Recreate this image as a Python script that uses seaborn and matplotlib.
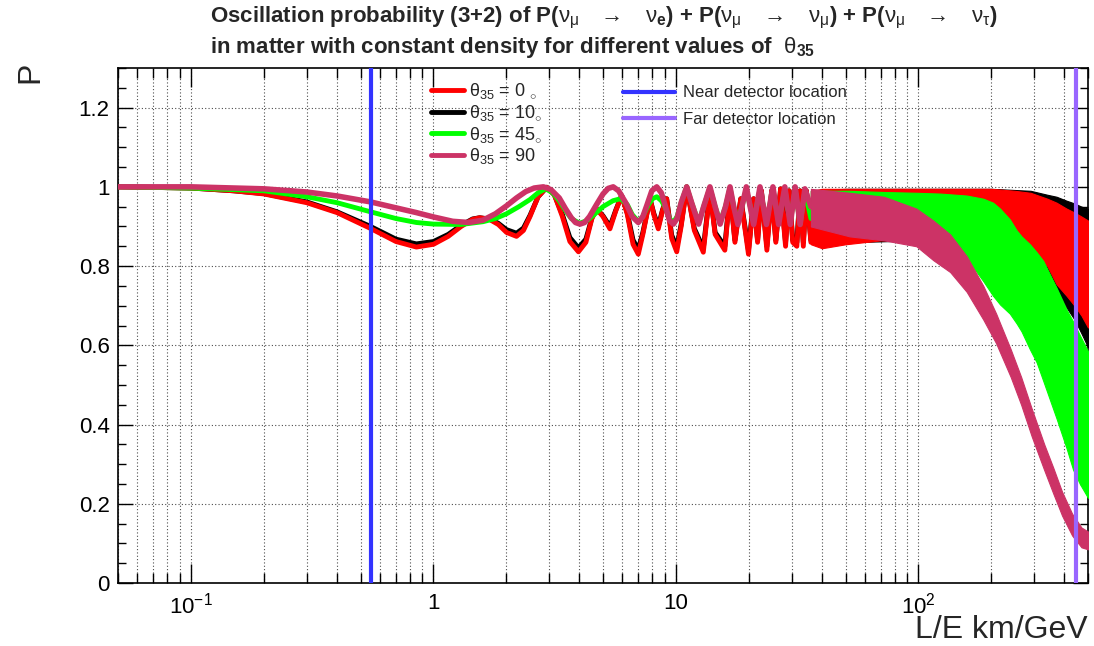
import numpy as np
import pandas as pd
import seaborn as sns
import matplotlib.pyplot as plt
from matplotlib.lines import Line2D
from matplotlib.ticker import FixedLocator, FixedFormatter, MultipleLocator, FuncFormatter

sns.set_style("ticks")
plt.rcParams['font.family'] = ['Liberation Sans', 'DejaVu Sans']
plt.rcParams['mathtext.fontset'] = 'custom'
plt.rcParams['mathtext.rm'] = 'Liberation Sans'
plt.rcParams['mathtext.it'] = 'Liberation Sans'
plt.rcParams['mathtext.bf'] = 'Liberation Sans:bold'

# ---- resolved oscillations (L/E in km/GeV, P) ----
red_le = [0.05, 0.1, 0.15, 0.2, 0.3, 0.4, 0.55, 0.7, 0.85, 1.0, 1.15, 1.3, 1.45, 1.55,
          1.7, 1.85, 2.0, 2.2, 2.35, 2.5, 2.7, 2.93, 3.15, 3.4, 3.65, 3.96, 4.25, 4.5,
          4.71, 5.0, 5.34, 5.65, 5.97, 6.3, 6.65, 6.99, 7.3, 7.81, 8.1, 8.45, 8.8, 9.15,
          9.6, 10.07, 10.5, 11.07, 11.9, 12.96, 13.8, 14.5, 15.9, 16.7, 17.5, 18.5, 19.9,
          20.9, 21.7, 22.5, 23.7, 24.8, 25.8, 27.0, 28.3, 29.3, 30.3, 31.5, 32.5, 33.5,
          34.5, 36.0]
red_p = [1.0, 0.997, 0.99, 0.982, 0.96, 0.935, 0.895, 0.862, 0.848, 0.855, 0.875, 0.9,
         0.918, 0.922, 0.918, 0.905, 0.885, 0.875, 0.89, 0.925, 0.975, 0.999, 0.98, 0.925,
         0.862, 0.836, 0.86, 0.92, 0.944, 0.925, 0.894, 0.94, 0.978, 0.93, 0.855, 0.83,
         0.88, 0.97, 0.93, 0.894, 0.94, 0.97, 0.87, 0.836, 0.9, 1.0, 0.89, 0.835, 0.99,
         0.88, 0.84, 0.99, 0.86, 0.97, 0.83, 0.97, 0.86, 0.99, 0.84, 0.99, 0.86, 0.995,
         0.85, 0.99, 0.86, 0.85, 0.99, 0.85, 0.99, 0.86]
black_p = [1.0, 0.997, 0.99, 0.983, 0.962, 0.937, 0.9, 0.868, 0.856, 0.862, 0.88, 0.903,
           0.919, 0.922, 0.919, 0.908, 0.892, 0.883, 0.896, 0.928, 0.975, 0.999, 0.98,
           0.93, 0.872, 0.846, 0.868, 0.922, 0.944, 0.927, 0.9, 0.942, 0.978, 0.934,
           0.866, 0.842, 0.885, 0.97, 0.933, 0.9, 0.942, 0.97, 0.878, 0.848, 0.905, 1.0,
           0.895, 0.845, 0.99, 0.885, 0.85, 0.99, 0.865, 0.97, 0.84, 0.97, 0.865, 0.99,
           0.85, 0.99, 0.865, 0.995, 0.86, 0.99, 0.865, 0.86, 0.99, 0.86, 0.99, 0.865]

green_le = [0.05, 0.1, 0.2, 0.3, 0.4, 0.55, 0.7, 0.85, 1.0, 1.3, 1.6, 1.8, 2.0, 2.25, 2.5,
            2.7, 2.9, 3.1, 3.3, 3.5, 3.7, 4.0, 4.3, 4.6, 5.0, 5.5, 5.9, 6.3, 6.6, 7.0, 7.3,
            7.7, 8.0, 8.33, 8.7, 9.0, 9.4, 9.75, 10.1, 10.5, 11.07, 11.6, 12.4, 13.0, 13.8,
            14.5, 15.2, 16.0, 16.7, 17.3, 18.0, 18.7, 19.5, 20.9, 22.2, 23.6, 25.1, 26.5,
            28.1, 29.6, 31.0, 32.5, 34.0, 36.0]
green_p = [1.0, 0.997, 0.99, 0.975, 0.96, 0.937, 0.92, 0.91, 0.906, 0.905, 0.912, 0.92,
           0.932, 0.95, 0.968, 0.985, 0.995, 0.985, 0.965, 0.94, 0.92, 0.908, 0.915, 0.93,
           0.95, 0.965, 0.97, 0.955, 0.93, 0.912, 0.925, 0.955, 0.97, 0.975, 0.965, 0.95,
           0.92, 0.91, 0.925, 0.96, 1.0, 0.96, 0.91, 0.95, 0.998, 0.95, 0.912, 0.95,
           0.998, 0.95, 0.912, 0.95, 0.995, 0.912, 0.995, 0.912, 0.995, 0.91, 0.995,
           0.91, 0.995, 0.905, 0.99, 0.92]

crim_le = [0.05, 0.1, 0.2, 0.3, 0.4, 0.55, 0.7, 0.85, 1.0, 1.2, 1.4, 1.6, 1.8, 2.0, 2.2,
           2.4, 2.6, 2.84, 3.05, 3.3, 3.5, 3.7, 3.85, 4.02, 4.2, 4.4, 4.7, 5.0, 5.25, 5.51,
           5.8, 6.2, 6.6, 6.99, 7.3, 7.6, 7.95, 8.33, 8.7, 9.0, 9.4, 9.75, 10.1, 10.5,
           11.07, 11.6, 12.4, 13.0, 13.8, 14.5, 15.2, 16.0, 16.7, 17.3, 18.0, 18.7, 19.5,
           20.9, 22.2, 23.6, 25.1, 26.5, 28.1, 29.6, 31.0, 32.5, 34.0, 36.0]
crim_p = [1.0, 1.0, 0.995, 0.987, 0.977, 0.962, 0.947, 0.935, 0.924, 0.913, 0.91, 0.916,
          0.932, 0.952, 0.972, 0.988, 0.997, 1.0, 0.993, 0.972, 0.945, 0.922, 0.91, 0.906,
          0.91, 0.925, 0.955, 0.982, 0.996, 1.0, 0.99, 0.96, 0.925, 0.91, 0.925, 0.955,
          0.99, 1.0, 0.985, 0.955, 0.915, 0.906, 0.92, 0.96, 1.0, 0.96, 0.906, 0.95, 1.0,
          0.95, 0.906, 0.95, 1.0, 0.95, 0.905, 0.95, 1.0, 0.905, 1.0, 0.905, 1.0, 0.905,
          1.0, 0.905, 1.0, 0.905, 0.995, 0.95]

# ---- unresolved fast oscillations: envelopes of the filled region ----
black_band_le = [36, 50, 100, 200, 290, 340, 371, 408, 440, 470, 500]
black_band_lo = [0.86, 0.86, 0.865, 0.86, 0.84, 0.79, 0.745, 0.695, 0.665, 0.63, 0.595]
black_band_hi = [0.99, 0.995, 0.995, 0.995, 0.99, 0.98, 0.975, 0.965, 0.958, 0.95, 0.945]

red_band_le = [36, 40, 50, 70, 100, 150, 200, 250, 290, 340, 371, 408, 440, 470, 500]
red_band_lo = [0.855, 0.845, 0.855, 0.865, 0.865, 0.86, 0.86, 0.86, 0.84, 0.80, 0.754,
               0.725, 0.70, 0.675, 0.645]
red_band_hi = [0.99, 0.995, 0.995, 0.995, 0.995, 0.995, 0.995, 0.99, 0.985, 0.97, 0.96,
               0.945, 0.935, 0.925, 0.915]

green_band_le = [36, 52, 72, 98, 123, 158, 185, 203, 217, 238, 254, 266, 288, 307, 327,
                 371, 408, 434, 463, 500]
green_band_lo = [0.92, 0.885, 0.88, 0.885, 0.88, 0.82, 0.762, 0.725, 0.703, 0.68, 0.655,
                 0.635, 0.59, 0.557, 0.51, 0.415, 0.34, 0.286, 0.25, 0.215]
green_band_hi = [0.99, 0.99, 0.987, 0.985, 0.983, 0.978, 0.97, 0.96, 0.945, 0.918, 0.89,
                 0.875, 0.855, 0.835, 0.813, 0.745, 0.69, 0.66, 0.625, 0.585]

crim_band_le = [36, 52, 72, 98, 115, 135, 158, 185, 209, 240, 265, 293, 330, 360, 391,
                430, 470, 500]
crim_band_lo = [0.9, 0.875, 0.865, 0.85, 0.815, 0.785, 0.735, 0.665, 0.605, 0.52, 0.45,
                0.37, 0.285, 0.225, 0.17, 0.12, 0.09, 0.085]
crim_band_hi = [0.995, 0.985, 0.975, 0.945, 0.915, 0.88, 0.825, 0.75, 0.68, 0.59, 0.52,
                0.44, 0.35, 0.29, 0.23, 0.175, 0.14, 0.13]

near_le = 0.55
far_le = 445

labels = [r"$\theta_{35}$ = 0 $_{\circ}$", r"$\theta_{35}$ = 10$_{\circ}$",
          r"$\theta_{35}$ = 45$_{\circ}$", r"$\theta_{35}$ = 90"]
colors = {"red": "#ff0000", "black": "#000000", "green": "#00ff00", "crim": "#cc3366"}

fig = plt.figure(figsize=(10.94, 6.46), dpi=100)
ax = fig.add_axes([118 / 1094, 63 / 646, 970 / 1094, 515 / 646])
ax.set_xscale('log')
ax.set_xlim(0.05, 500)
ax.set_ylim(0, 1.3)

# drawing order: black under red, green over red, crimson on top
layers = [
    ("black", red_le, black_p, black_band_le, black_band_lo, black_band_hi, 3.5),
    ("red", red_le, red_p, red_band_le, red_band_lo, red_band_hi, 3.5),
    ("green", green_le, green_p, green_band_le, green_band_lo, green_band_hi, 3.5),
    ("crim", crim_le, crim_p, crim_band_le, crim_band_lo, crim_band_hi, 4.0),
]
for z, (key, le, p, ble, blo, bhi, lw) in enumerate(layers):
    col = colors[key]
    ax.fill_between(ble, blo, bhi, color=col, lw=0.8, edgecolor=col, zorder=3 + z)
    df = pd.DataFrame({"le": le, "p": p})
    sns.lineplot(data=df, x="le", y="p", color=col, lw=lw, estimator=None, sort=False,
                 ax=ax, zorder=3 + z)

ax.axvline(near_le, color="#3333ff", lw=3, zorder=10)
ax.axvline(far_le, color="#9966ff", lw=3, zorder=10)

# axes, ticks, grid in ROOT look
ax.xaxis.set_major_locator(FixedLocator([0.1, 1, 10, 100]))
ax.xaxis.set_major_formatter(FixedFormatter([r"$10^{-1}$", "1", "10", r"$10^{2}$"]))
minors = [m * 10.0 ** d for d in range(-2, 3) for m in range(2, 10)]
ax.xaxis.set_minor_locator(FixedLocator([v for v in minors if 0.05 <= v <= 500]))
ax.yaxis.set_major_locator(MultipleLocator(0.2))
ax.yaxis.set_minor_locator(MultipleLocator(0.05))
ax.yaxis.set_major_formatter(FuncFormatter(lambda v, pos: f"{v:g}"))
ax.tick_params(axis='both', which='both', direction='in', top=True, right=True,
               colors='black', width=1)
ax.tick_params(axis='x', which='major', length=14, labelsize=16, pad=7)
ax.tick_params(axis='x', which='minor', length=7)
ax.tick_params(axis='y', which='major', length=11, labelsize=16, pad=6)
ax.tick_params(axis='y', which='minor', length=6)
ax.grid(True, which='both', axis='x', color='0.3', ls=(0, (1, 2)), lw=0.8)
ax.grid(True, which='major', axis='y', color='0.3', ls=(0, (1, 2)), lw=0.8)
ax.set_axisbelow(True)
for s in ax.spines.values():
    s.set_linewidth(1.2)
    s.set_color('black')
ax.set_xlabel("")
ax.set_ylabel("")

# legends
h1 = [Line2D([], [], color=colors[k], lw=3.5) for k in ["red", "black", "green", "crim"]]
leg1 = ax.legend(h1, labels, loc='upper left', frameon=False, fontsize=13,
                 bbox_to_anchor=(422 / 1094, 1 - 72 / 646), bbox_transform=fig.transFigure,
                 borderpad=0, handlelength=1.8, handletextpad=0.3, labelspacing=0.1)
ax.add_artist(leg1)
h2 = [Line2D([], [], color="#3333ff", lw=3), Line2D([], [], color="#9966ff", lw=3)]
ax.legend(h2, ["Near detector location", "Far detector location"], loc='upper left',
          frameon=False, fontsize=12, bbox_to_anchor=(615 / 1094, 1 - 77 / 646),
          bbox_transform=fig.transFigure, borderpad=0, handlelength=3.1,
          handletextpad=0.5, labelspacing=0.7)

# titles and axis labels
t1 = (r"Oscillation probability (3+2) of P($\nu_{\mu}$   $\rightarrow$   $\nu_{\mathbf{e}}$)"
      r" + P($\nu_{\mu}$   $\rightarrow$   $\nu_{\mu}$) + P($\nu_{\mu}$   $\rightarrow$   $\nu_{\tau}$)")
t2 = r"in matter with constant density for different values of  $\theta_{\mathbf{35}}$"
fig.text(210 / 1094, 1 - 18 / 646, t1, ha='left', va='center', fontsize=16, fontweight='bold')
fig.text(210 / 1094, 1 - 47 / 646, t2, ha='left', va='center', fontsize=16, fontweight='bold')
fig.text(30 / 1094, 1 - 62 / 646, "P", rotation=90, ha='center', va='top', fontsize=23)
fig.text(1088 / 1094, 1 - 630 / 646, "L/E km/GeV", ha='right', va='center', fontsize=23)

fig.savefig("out.png", dpi=100)
